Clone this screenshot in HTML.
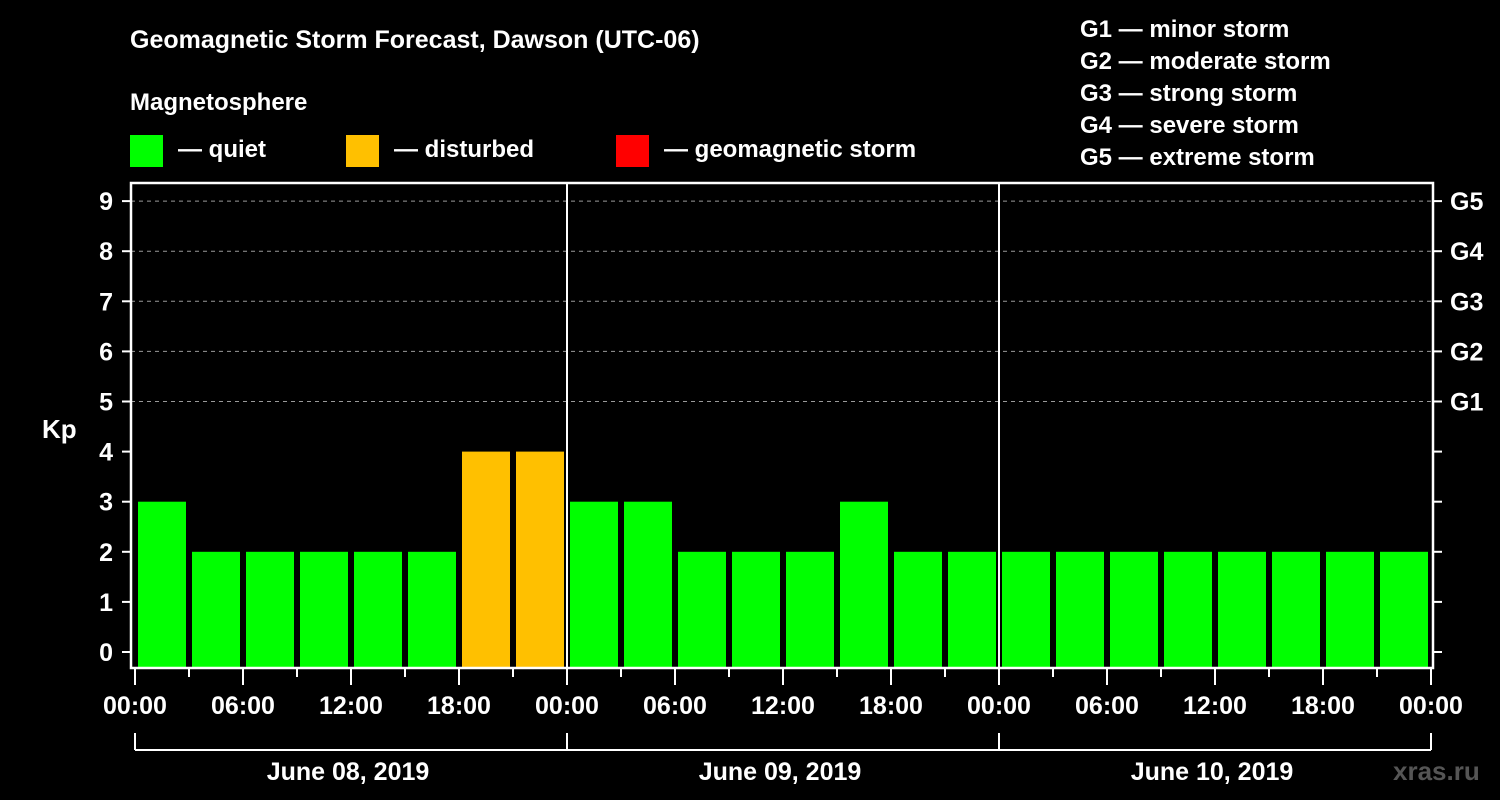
<!DOCTYPE html>
<html><head><meta charset="utf-8"><style>
html,body{margin:0;padding:0;background:#000;}
svg{display:block;font-family:"Liberation Sans",Arial,sans-serif;font-weight:bold;}
</style></head><body>
<svg id="chart" width="1500" height="800" viewBox="0 0 1500 800">
<rect width="1500" height="800" fill="#000"/>
<text x="130" y="48" fill="#fff" font-size="25">Geomagnetic Storm Forecast, Dawson (UTC-06)</text>
<text x="130" y="110" fill="#fff" font-size="24">Magnetosphere</text>
<g><rect x="130" y="135" width="33" height="32" fill="#00ff00"/><text x="178" y="157" fill="#fff" font-size="24">— quiet</text></g>
<g><rect x="346" y="135" width="33" height="32" fill="#ffc000"/><text x="394" y="157" fill="#fff" font-size="24">— disturbed</text></g>
<g><rect x="616" y="135" width="33" height="32" fill="#ff0000"/><text x="664" y="157" fill="#fff" font-size="24">— geomagnetic storm</text></g>
<g fill="#fff" font-size="24">
<text x="1080" y="37">G1 — minor storm</text>
<text x="1080" y="69">G2 — moderate storm</text>
<text x="1080" y="101">G3 — strong storm</text>
<text x="1080" y="133">G4 — severe storm</text>
<text x="1080" y="165">G5 — extreme storm</text>
</g>
<text x="42" y="438" fill="#fff" font-size="26">Kp</text>
<text x="1393" y="780" fill="#555" font-size="26">xras.ru</text>
<g id="plot"></g>
</svg>
<script>
const values = [3,2,2,2,2,2,4,4, 3,3,2,2,2,3,2,2, 2,2,2,2,2,2,2,2];
const yTicks = [0,1,2,3,4,5,6,7,8,9];
const gLabels = ["G1","G2","G3","G4","G5"];
const timeLabels = ["00:00","06:00","12:00","18:00"];
const dayLabels = ["June 08, 2019","June 09, 2019","June 10, 2019"];

const NS="http://www.w3.org/2000/svg";
const plot=document.getElementById('plot');
const X0=135, SLOT=54, LEFT=131, RIGHT=1433, TOP=183, BOTTOM=668;
const y=v=>652-v*50.1;
const x=i=>X0+i*SLOT;
function mk(tag,attrs,parent){const e=document.createElementNS(NS,tag);for(const k in attrs)e.setAttribute(k,attrs[k]);(parent||plot).appendChild(e);return e;}
// gridlines
yTicks.forEach(v=>{if(v>=5){const l=mk('line',{x1:LEFT,x2:RIGHT,y1:y(v),y2:y(v),stroke:'#999','stroke-dasharray':'4,4','stroke-width':1});

}});
// bars
values.forEach((v,i)=>{const c=v>=5?'#ff0000':(v>=4?'#ffc000':'#00ff00');
const r=mk('rect',{x:x(i)+3,y:y(v),width:48,height:667-y(v),fill:c});

});
// day separators
for(let d=1;d<dayLabels.length;d++){const l=mk('line',{x1:x(d*8),x2:x(d*8),y1:TOP,y2:BOTTOM,stroke:'#fff','stroke-width':2});

}
// frame
const f=mk('rect',{x:LEFT,y:TOP,width:RIGHT-LEFT,height:BOTTOM-TOP,fill:'none',stroke:'#fff','stroke-width':2.5});


// y ticks + labels
yTicks.forEach(v=>{mk('line',{x1:122,x2:LEFT,y1:y(v),y2:y(v),stroke:'#fff','stroke-width':2});
mk('line',{x1:RIGHT,x2:1442,y1:y(v),y2:y(v),stroke:'#fff','stroke-width':2});
const t=mk('text',{x:113,y:y(v)+9,fill:'#fff','font-size':25,'text-anchor':'end'});t.textContent=v;

});
gLabels.forEach((g,i)=>{const t=mk('text',{x:1450,y:y(5+i)+9,fill:'#fff','font-size':25});t.textContent=g;

});
// x ticks
for(let i=0;i<=values.length;i++){const major=i%2===0;
mk('line',{x1:x(i),x2:x(i),y1:BOTTOM,y2:major?685:677,stroke:'#fff','stroke-width':2});
if(major){const t=mk('text',{x:x(i),y:714,fill:'#fff','font-size':25,'text-anchor':'middle'});t.textContent=timeLabels[(i/2)%4];

}}
// day brackets
mk('line',{x1:x(0),x2:x(values.length),y1:750,y2:750,stroke:'#fff','stroke-width':2});
for(let d=0;d<=dayLabels.length;d++)mk('line',{x1:x(d*8),x2:x(d*8),y1:733,y2:750,stroke:'#fff','stroke-width':2});
dayLabels.forEach((s,d)=>{const t=mk('text',{x:x(d*8+4)-3,y:780,fill:'#fff','font-size':25,'text-anchor':'middle'});t.textContent=s;

});
</script>
</body></html>
